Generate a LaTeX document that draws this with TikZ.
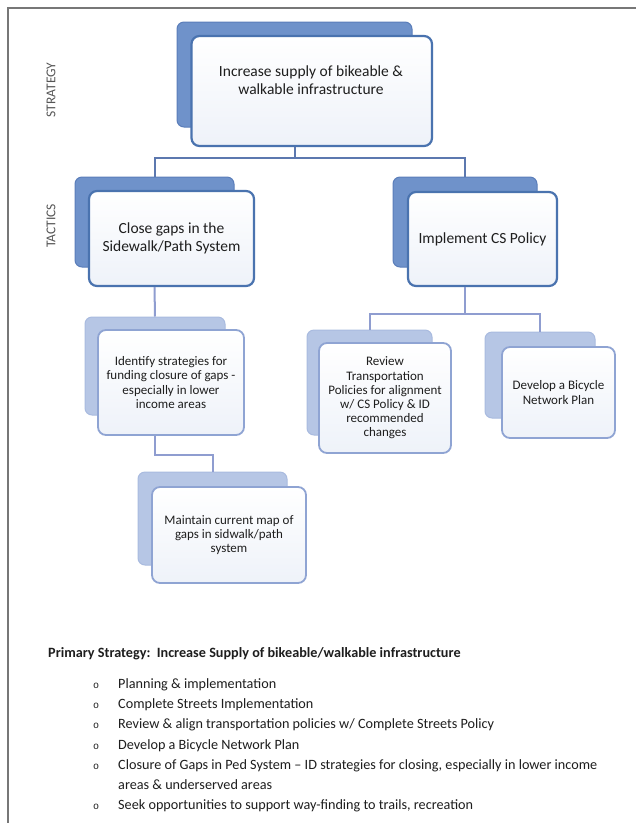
\documentclass[tikz,border=0pt]{standalone}
\usepackage{fontspec}
\setmainfont{Carlito}
\newfontfamily\bulletfont{Liberation Mono}
\definecolor{frameC}{HTML}{777777}
\definecolor{backA}{HTML}{6F92CA}
\definecolor{backAedge}{HTML}{5B7EBA}
\definecolor{backB}{HTML}{B6C6E5}
\definecolor{backBedge}{HTML}{A9BBDF}
\definecolor{frontA}{HTML}{4A73AF}
\definecolor{frontB}{HTML}{8FA4D3}
\definecolor{linkA}{HTML}{5C78AF}
\definecolor{linkB}{HTML}{8F9DD0}
\definecolor{tintB}{HTML}{EEF2F9}
\definecolor{txt}{HTML}{1E1E1E}
\definecolor{side}{HTML}{555555}
\tikzset{
  backboxA/.style={draw=backAedge, line width=1pt, fill=backA, rounded corners=7pt, inner sep=0pt},
  backboxB/.style={draw=backBedge, line width=1pt, fill=backB, rounded corners=7pt, inner sep=0pt},
  frontboxA/.style={draw=frontA, line width=2.2pt, top color=white, bottom color=tintB, rounded corners=8pt, inner sep=0pt, align=center, text=txt},
  frontboxB/.style={draw=frontB, line width=1.8pt, top color=white, bottom color=tintB, rounded corners=8pt, inner sep=0pt, align=center, text=txt},
  bigtxt/.style={font=\fontsize{15.5}{17.5}\selectfont},
  smalltxt/.style={font=\fontsize{13}{14.2}\selectfont},
  linkAstyle/.style={draw=linkA, line width=2pt},
  linkBstyle/.style={draw=linkB, line width=2pt},
  sidelabel/.style={rotate=90, text=side, font=\fontsize{13.5}{15}\selectfont},
  listline/.style={anchor=base west, text=txt, font=\fontsize{14.2}{16}\selectfont, inner sep=0pt},
  bulletmark/.style={anchor=base west, text=txt, font=\bulletfont\fontsize{10}{12}\selectfont, inner sep=0pt}
}
\begin{document}
\begin{tikzpicture}[x=1pt, y=-1pt]
\useasboundingbox (0,0) rectangle (636,823);
\fill[white] (0,0) rectangle (636,823);
% frame (top and left only)
\draw[frameC, line width=2pt] (636,8) -- (7.5,8) -- (7.5,823);

% side labels
\node[sidelabel] (lblstrategy) at (51,90) {STRATEGY};
\node[sidelabel] (lbltactics) at (51,226) {TACTICS};

% top strategy box
\node[backboxA, minimum width=235pt, minimum height=105pt] (topback) at (294.5,74.5) {};
\node[frontboxA, minimum width=240.5pt, minimum height=110pt] (topfront) at (311.75,91) {};
\node[bigtxt, text=txt, align=center, font=\fontsize{15.5}{18}\selectfont] (toptext) at (311,80.5) {Increase supply of bikeable \&\\walkable infrastructure};

% tactic boxes
\node[backboxA, minimum width=159pt, minimum height=90pt] (lback) at (154.5,222) {};
\node[frontboxA, bigtxt, minimum width=165pt, minimum height=95pt] (lfront) at (171.5,238.5) {Close gaps in the\\Sidewalk/Path System};
\node[backboxA, minimum width=144pt, minimum height=90pt] (rback) at (465,222) {};
\node[frontboxA, bigtxt, minimum width=149pt, minimum height=94pt] (rfront) at (482.5,239) {Implement CS Policy};

% lower boxes
\node[backboxB, minimum width=140pt, minimum height=98pt] (bthreeback) at (155,366) {};
\node[frontboxB, smalltxt, minimum width=146pt, minimum height=105pt] (bthreefront) at (171,382.5) {Identify strategies for\\funding closure of gaps -\\especially in lower\\income areas};
\node[backboxB, minimum width=149pt, minimum height=93pt] (bfourback) at (212.5,518.5) {};
\node[frontboxB, smalltxt, minimum width=154pt, minimum height=96pt] (bfourfront) at (229,535) {Maintain current map of\\gaps in sidwalk/path\\system};
\node[backboxB, minimum width=125pt, minimum height=105pt] (bfiveback) at (369.5,382.5) {};
\node[frontboxB, smalltxt, minimum width=132pt, minimum height=110pt] (bfivefront) at (385,398) {Review\\Transportation\\Policies for alignment\\w/ CS Policy \& ID\\recommended\\changes};
\node[backboxB, minimum width=110pt, minimum height=86pt] (bsixback) at (540,375) {};
\node[frontboxB, smalltxt, minimum width=113pt, minimum height=91pt] (bsixfront) at (558.5,392.5) {Develop a Bicycle\\Network Plan};

% connectors
\coordinate (busone) at (294.5,158);
\draw[linkAstyle] (topback |- topfront.south) -- (busone);
\draw[linkAstyle] (busone) -| (lback.north);
\draw[linkAstyle] (busone) -| (rback.north);

\draw[linkBstyle] (lback |- lfront.south) -- (bthreeback.north);
\coordinate (bustwo) at (155,455);
\draw[linkBstyle] (bthreeback |- bthreefront.south) -- (bustwo) -| (bfourback.north);
\coordinate (busthree) at (465,314);
\draw[linkBstyle] (rback |- rfront.south) -- (busthree);
\draw[linkBstyle] (busthree) -| (bfiveback.north);
\draw[linkBstyle] (busthree) -| (bsixback.north);

% list below
\node[listline, font=\bfseries\fontsize{14.2}{16}\selectfont] (header) at (48,657) {Primary Strategy:\ \ Increase Supply of bikeable/walkable infrastructure};
\node[bulletmark] (bone) at (93,688) {o};
\node[listline] (lone) at (118,688) {Planning \& implementation};
\node[bulletmark] (btwo) at (93,708) {o};
\node[listline] (ltwo) at (118,708) {Complete Streets Implementation};
\node[bulletmark] (bthree) at (93,728) {o};
\node[listline] (lthree) at (118,728) {Review \& align transportation policies w/ Complete Streets Policy};
\node[bulletmark] (bfour) at (93,749) {o};
\node[listline] (lfour) at (118,749) {Develop a Bicycle Network Plan};
\node[bulletmark] (bfive) at (93,769) {o};
\node[listline] (lfive) at (118,769) {Closure of Gaps in Ped System – ID strategies for closing, especially in lower income};
\node[listline] (lfiveb) at (118,789) {areas \& underserved areas};
\node[bulletmark] (bsix) at (93,809) {o};
\node[listline] (lsix) at (118,809) {Seek opportunities to support way-finding to trails, recreation};
\end{tikzpicture}
\end{document}
